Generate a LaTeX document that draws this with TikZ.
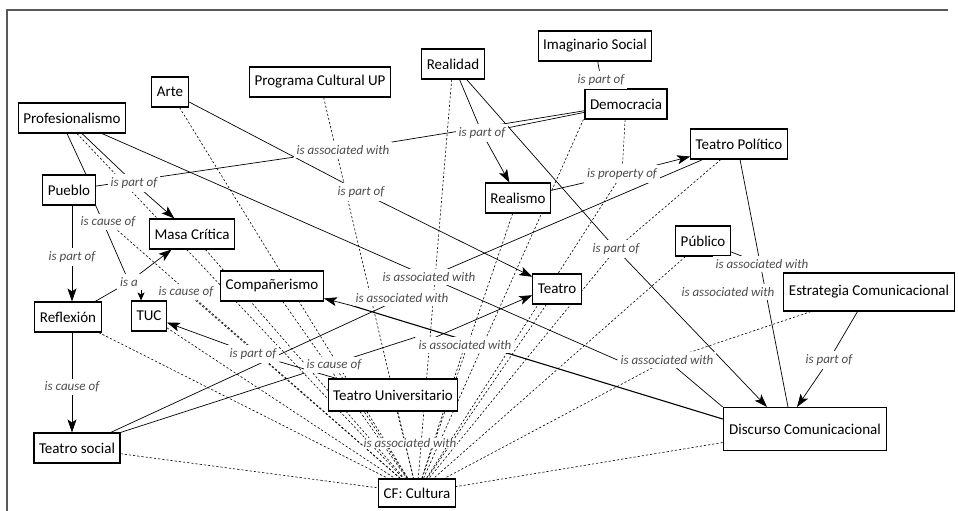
\documentclass[tikz,border=0pt]{standalone}
\usepackage{fontspec}
\setmainfont{Carlito}
\usetikzlibrary{arrows.meta,backgrounds,calc}
\begin{document}
\begin{tikzpicture}[x=1pt,y=-1pt,
  concept/.style={draw=black,line width=1.1pt,fill=white,font=\fontsize{15}{17}\selectfont,inner xsep=5pt,inner ysep=2pt,minimum height=30pt},
  lbl/.style={fill=white,font=\fontsize{13}{15}\selectfont\itshape,text=black!70,inner sep=3pt},
  link/.style={line width=0.7pt},
  arr/.style={link,-{Stealth[length=13pt,width=9pt,inset=3pt]}},
  sarr/.style={link,-{Stealth[length=8pt,width=7pt,inset=2pt]}},
  dsh/.style={line width=0.6pt,dash pattern=on 2.2pt off 2pt},
]
\useasboundingbox (0,0) rectangle (958,511);
\draw[line width=1.5pt,black!65] (7,515) -- (7,10) -- (948,10);

% concepts
\node[concept] (prof) at (72,118) {Profesionalismo};
\node[concept] (arte) at (170,92) {Arte};
\node[concept] (prog) at (320,82) {Programa Cultural UP};
\node[concept] (real) at (453,64) {Realidad};
\node[concept] (imag) at (595,46) {Imaginario Social};
\node[concept] (demo) at (626,104) {Democracia};
\node[concept] (tpol) at (739,144) {Teatro Político};
\node[concept] (rlsm) at (518,198) {Realismo};
\node[concept] (pueb) at (69,190) {Pueblo};
\node[concept] (masa) at (192,234) {Masa Crítica};
\node[concept] (comp) at (272,286) {Compañerismo};
\node[concept] (tuc) at (149,316) {TUC};
\node[concept] (refl) at (68,317) {Reflexión};
\node[concept] (tsoc) at (77,448) {Teatro social};
\node[concept] (teat) at (557,289) {Teatro};
\node[concept] (publ) at (703,241) {Público};
\node[concept,minimum height=38pt] (estr) at (869,292) {Estrategia Comunicacional};
\node[concept,minimum height=43pt,inner xsep=6pt] (disc) at (805,429) {Discurso Comunicacional};
\node[concept,minimum height=32pt] (tuni) at (393,395) {Teatro Universitario};
\node[concept,minimum height=28pt] (cf) at (417,493) {CF: Cultura};

% linking phrases
\node[lbl] (l1) at (343,150) {is associated with};
\node[lbl] (l2) at (482,133) {is part of};
\node[lbl] (l3) at (601,80) {is part of};
\node[lbl] (l4) at (622,174) {is property of};
\node[lbl] (l5) at (134,183) {is part of};
\node[lbl] (l6) at (108,222) {is cause of};
\node[lbl] (l7) at (72,257) {is part of};
\node[lbl] (l8) at (129,282) {is a};
\node[lbl] (l9) at (186,292) {is cause of};
\node[lbl] (l10) at (361,192) {is part of};
\node[lbl] (l11) at (616,249) {is part of};
\node[lbl] (l12) at (429,277) {is associated with};
\node[lbl] (l13) at (402,298) {is associated with};
\node[lbl] (l14) at (465,345) {is associated with};
\node[lbl] (l15) at (253,354) {is part of};
\node[lbl] (l16) at (334,365) {is cause of};
\node[lbl,inner sep=0.5pt] (l17) at (410,443) {is associated with};
\node[lbl] (l18) at (72,387) {is cause of};
\node[lbl] (l19) at (762,264) {is associated with};
\node[lbl] (l20) at (728,292) {is associated with};
\node[lbl] (l21) at (667,360) {is associated with};
\node[lbl] (l22) at (829,360) {is part of};

\begin{pgfonlayer}{background}
% dashed links towards CF: Cultura
\foreach \n in {tsoc,refl,tuc,l9,l6,masa,comp,arte,prog,real,l3,l4,l11,publ,l21,disc,teat,rlsm,tuni,l16,l14}
  \draw[dsh] (\n) -- (cf);
\draw[dsh] ($(prof.south)+(5,0)$) -- (cf);
\draw[dsh] (demo) -- (l4);
\draw[dsh] (tpol) -- (l11);
\draw[dsh] (estr) -- (l21);

% solid links
\draw[link] ($(prof.south)+(-5,0)$) -- ($(pueb.north)+(17,0)$);
\draw[link] ($(prof.south)+(10,0)$) -- (l5);
\draw[arr] (l5) -- (masa);
\draw[link] ($(prof.south)+(30,0)$) -- (l21.west);
\draw[link] (arte) -- (l10);
\draw[arr] (l10) -- (teat);
\draw[link] (pueb) -- (l1);
\draw[link] (l1) -- (demo);
\draw[link] (pueb.south -| l7) -- (l7);
\draw[arr] (l7) -- (l7 |- refl.north);
\draw[link] (pueb.south east) -- (l8);
\draw[link] (refl) -- (l8);
\draw[arr] (l8) -- (masa);
\draw[sarr] (l8.south east) -- (l8.south east |- tuc.north);
\draw[link] (refl.south -| l18) -- (l18);
\draw[arr] (l18) -- (l18 |- tsoc.north);
\draw[link] (real) -- (l2);
\draw[arr] (l2) -- (rlsm);
\draw[link] (demo) -- (l2);
\draw[link] (imag) -- (l3);
\draw[link] (real) -- (l11);
\draw[arr] (l11) -- ($(disc.north)+(-38,0)$);
\draw[link] (rlsm) -- (l4);
\draw[arr] (l4) -- (tpol);
\draw[link] (tpol) -- (l12);
\draw[link] ($(tpol.south)+(1,0)$) -- ($(disc.north)+(-17,0)$);
\draw[link] (publ) -- (l19);
\draw[link] (l19) -- (estr);
\draw[link] (estr) -- (l22);
\draw[arr] (l22) -- ($(disc.north)+(-8,0)$);
\draw[link] (l21) -- (disc.north west);
\draw[link] (tsoc) -- (l13);
\draw[arr] (l13.south west) -- ($(comp.east)!0.8!(comp.south east)$);
\draw[link,line width=1.1pt] (l13.south west) -- ($(disc.west)+(0,-10)$);
\draw[link] (tsoc.north east) -- (l14.north west);
\draw[arr] ($(l14.north west)+(20,0)$) -- ($(teat.south west)!0.3!(teat.north west)$);
\draw[link] (tuni) -- (l15);
\draw[arr] (l15) -- (tuc);
\end{pgfonlayer}
\end{tikzpicture}
\end{document}
